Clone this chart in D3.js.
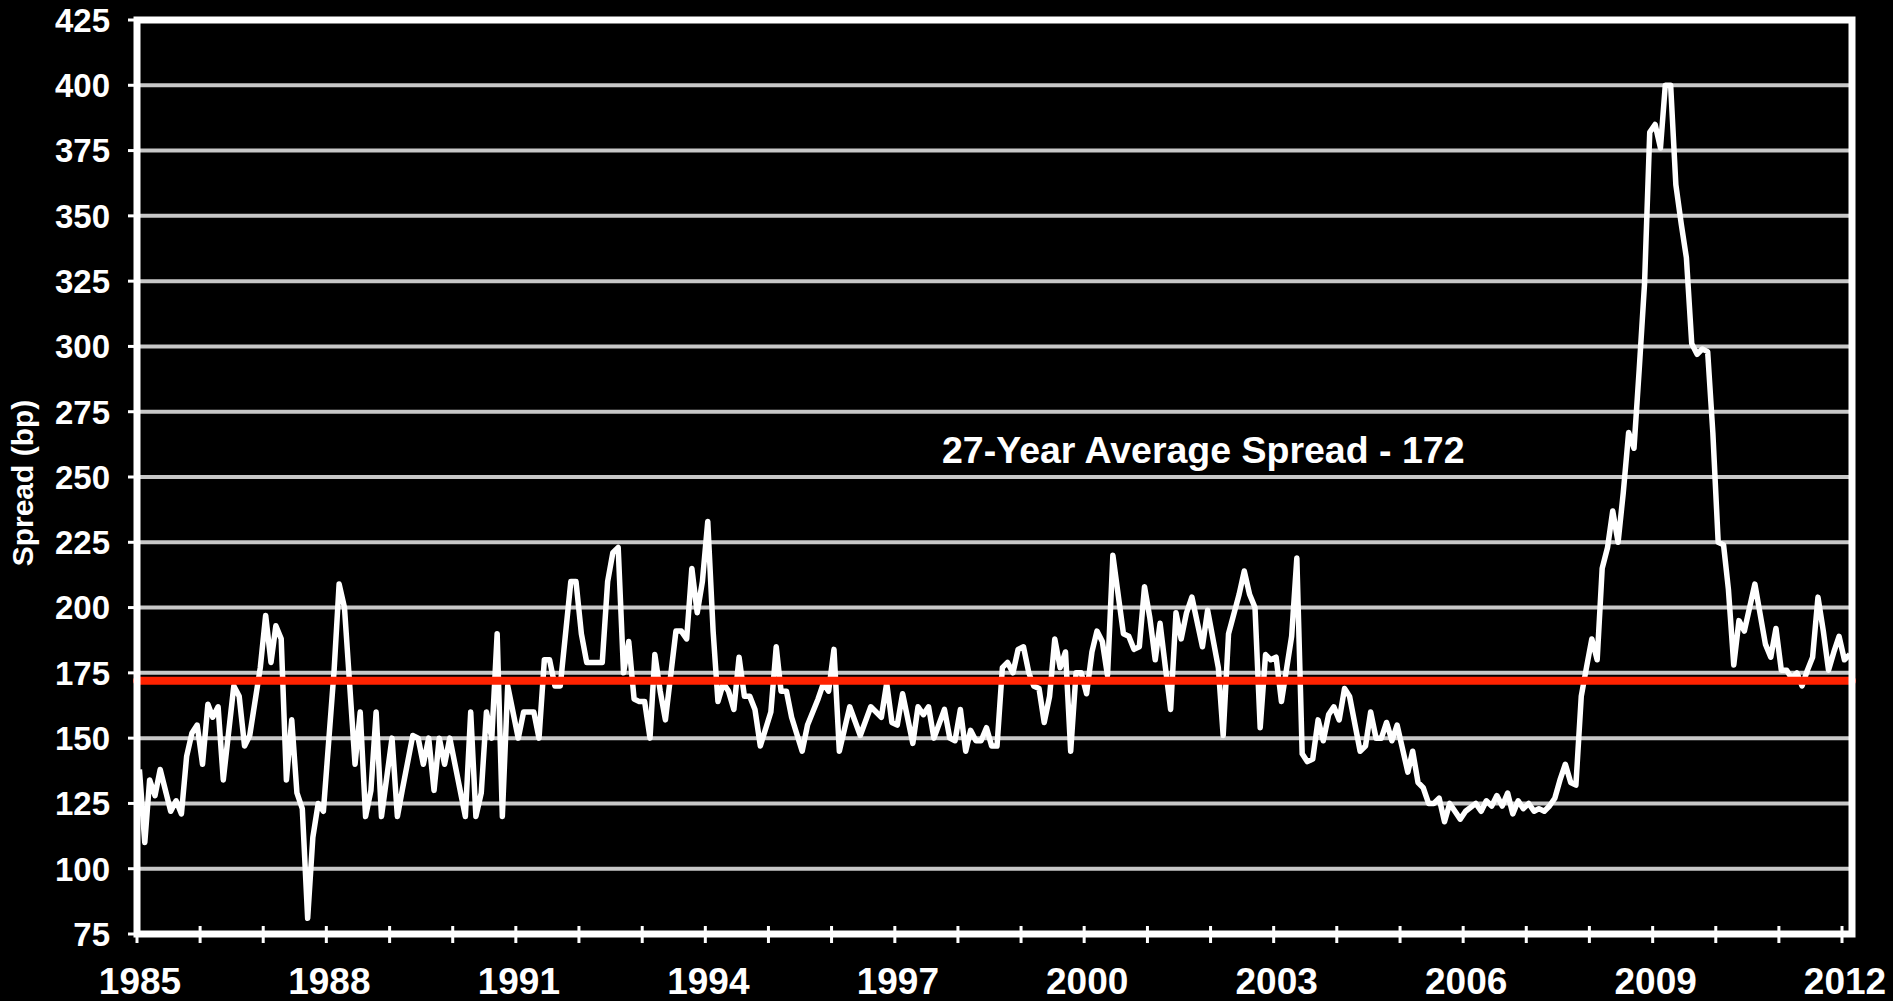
<!DOCTYPE html>
<html>
<head>
<meta charset="utf-8">
<script src="https://d3js.org/d3.v7.min.js"></script>
<style>
  body { margin: 0; background: #000; }
  text { font-family: Arial, "Liberation Sans", sans-serif; font-weight: bold; fill: #fff; }
</style>
</head>
<body>
<div id="spread-chart"></div>
<script>
// monthly spread, bp
const spreadData = [
    ["1985-01", 138], ["1985-02", 110], ["1985-03", 134], ["1985-04", 128], ["1985-05", 138], ["1985-07", 122],
    ["1985-08", 126], ["1985-09", 121], ["1985-10", 143], ["1985-11", 152], ["1985-12", 155],
    ["1986-01", 140], ["1986-02", 163], ["1986-03", 158], ["1986-04", 162], ["1986-05", 134], ["1986-07", 170],
    ["1986-08", 166], ["1986-09", 147], ["1986-10", 151], ["1986-12", 177],
    ["1987-01", 197], ["1987-02", 179], ["1987-03", 193], ["1987-04", 188], ["1987-05", 134], ["1987-06", 157],
    ["1987-07", 129], ["1987-08", 123], ["1987-09", 81], ["1987-10", 112], ["1987-11", 125], ["1987-12", 122],
    ["1988-02", 176], ["1988-03", 209], ["1988-04", 200], ["1988-06", 140], ["1988-07", 160], ["1988-08", 120],
    ["1988-09", 130], ["1988-10", 160], ["1988-11", 120],
    ["1989-01", 150], ["1989-02", 120], ["1989-03", 130], ["1989-05", 151], ["1989-06", 150], ["1989-07", 140],
    ["1989-08", 150], ["1989-09", 130], ["1989-10", 150], ["1989-11", 140], ["1989-12", 150],
    ["1990-03", 120], ["1990-04", 160], ["1990-05", 120], ["1990-06", 129], ["1990-07", 160], ["1990-08", 150],
    ["1990-09", 190], ["1990-10", 120], ["1990-11", 170],
    ["1991-01", 150], ["1991-02", 160], ["1991-04", 160], ["1991-05", 150], ["1991-06", 180], ["1991-07", 180],
    ["1991-08", 170], ["1991-09", 170], ["1991-11", 210], ["1991-12", 210],
    ["1992-01", 190], ["1992-02", 179], ["1992-05", 179], ["1992-06", 210], ["1992-07", 221], ["1992-08", 223],
    ["1992-09", 175], ["1992-10", 187], ["1992-11", 165], ["1992-12", 164],
    ["1993-01", 164], ["1993-02", 150], ["1993-03", 182], ["1993-04", 168], ["1993-05", 157], ["1993-07", 191],
    ["1993-08", 191], ["1993-09", 188], ["1993-10", 215], ["1993-11", 198], ["1993-12", 210],
    ["1994-01", 233], ["1994-02", 191], ["1994-03", 164], ["1994-04", 171], ["1994-05", 168], ["1994-06", 161],
    ["1994-07", 181], ["1994-08", 166], ["1994-09", 166], ["1994-10", 161], ["1994-11", 147],
    ["1995-01", 160], ["1995-02", 185], ["1995-03", 168], ["1995-04", 168], ["1995-05", 158], ["1995-07", 145],
    ["1995-08", 155], ["1995-10", 165], ["1995-11", 171], ["1995-12", 168],
    ["1996-01", 184], ["1996-02", 145], ["1996-04", 162], ["1996-06", 151], ["1996-08", 162], ["1996-10", 158],
    ["1996-11", 171], ["1996-12", 156],
    ["1997-01", 155], ["1997-02", 167], ["1997-04", 148], ["1997-05", 162], ["1997-06", 159], ["1997-07", 162],
    ["1997-08", 150], ["1997-10", 161], ["1997-11", 150], ["1997-12", 149],
    ["1998-01", 161], ["1998-02", 145], ["1998-03", 153], ["1998-04", 149], ["1998-05", 149], ["1998-06", 154],
    ["1998-07", 147], ["1998-08", 147], ["1998-09", 177], ["1998-10", 179], ["1998-11", 175], ["1998-12", 184],
    ["1999-01", 185], ["1999-02", 175], ["1999-03", 170], ["1999-04", 169], ["1999-05", 156], ["1999-06", 166],
    ["1999-07", 188], ["1999-08", 177], ["1999-09", 183], ["1999-10", 145], ["1999-11", 175], ["1999-12", 175],
    ["2000-01", 167], ["2000-02", 183], ["2000-03", 191], ["2000-04", 187], ["2000-05", 174], ["2000-06", 220],
    ["2000-08", 190], ["2000-09", 189], ["2000-10", 184], ["2000-11", 185], ["2000-12", 208],
    ["2001-01", 196], ["2001-02", 180], ["2001-03", 194], ["2001-04", 177], ["2001-05", 161], ["2001-06", 198],
    ["2001-07", 188], ["2001-08", 198], ["2001-09", 204], ["2001-11", 185], ["2001-12", 199],
    ["2002-02", 177], ["2002-03", 151], ["2002-04", 190], ["2002-06", 205], ["2002-07", 214], ["2002-08", 205],
    ["2002-09", 200], ["2002-10", 154], ["2002-11", 182], ["2002-12", 180],
    ["2003-01", 181], ["2003-02", 164], ["2003-04", 189], ["2003-05", 219], ["2003-06", 144], ["2003-07", 141],
    ["2003-08", 142], ["2003-09", 157], ["2003-10", 149], ["2003-11", 159], ["2003-12", 162],
    ["2004-01", 157], ["2004-02", 169], ["2004-03", 166], ["2004-05", 145], ["2004-06", 147], ["2004-07", 160],
    ["2004-08", 150], ["2004-09", 150], ["2004-10", 156], ["2004-11", 149], ["2004-12", 155],
    ["2005-02", 137], ["2005-03", 145], ["2005-04", 133], ["2005-05", 131], ["2005-06", 125], ["2005-07", 125],
    ["2005-08", 127], ["2005-09", 118], ["2005-10", 125], ["2005-12", 119],
    ["2006-01", 122], ["2006-03", 125], ["2006-04", 122], ["2006-05", 126], ["2006-06", 124], ["2006-07", 128],
    ["2006-08", 124], ["2006-09", 129], ["2006-10", 121], ["2006-11", 126], ["2006-12", 123],
    ["2007-01", 125], ["2007-02", 122], ["2007-03", 123], ["2007-04", 122], ["2007-05", 124], ["2007-06", 127],
    ["2007-07", 134], ["2007-08", 140], ["2007-09", 133], ["2007-10", 132], ["2007-11", 166], ["2007-12", 177],
    ["2008-01", 188], ["2008-02", 180], ["2008-03", 215], ["2008-04", 223], ["2008-05", 237], ["2008-06", 225],
    ["2008-07", 244], ["2008-08", 267], ["2008-09", 261], ["2008-10", 291], ["2008-11", 324], ["2008-12", 382],
    ["2009-01", 385], ["2009-02", 376], ["2009-03", 400], ["2009-04", 400], ["2009-05", 362], ["2009-06", 347],
    ["2009-07", 334], ["2009-08", 301], ["2009-09", 297], ["2009-10", 299], ["2009-11", 298], ["2009-12", 267],
    ["2010-01", 225], ["2010-02", 224], ["2010-03", 207], ["2010-04", 178], ["2010-05", 195], ["2010-06", 191],
    ["2010-08", 209], ["2010-10", 186], ["2010-11", 181], ["2010-12", 192],
    ["2011-01", 176], ["2011-02", 176], ["2011-03", 173], ["2011-04", 175], ["2011-05", 170], ["2011-06", 176],
    ["2011-07", 181], ["2011-08", 204], ["2011-09", 191], ["2011-10", 176], ["2011-11", 183], ["2011-12", 189],
    ["2012-01", 180], ["2012-02", 182]
];

const yTicks = [75, 100, 125, 150, 175, 200, 225, 250, 275, 300, 325, 350, 375, 400, 425];
const xLabelYears = [1985, 1988, 1991, 1994, 1997, 2000, 2003, 2006, 2009, 2012];
const averageSpread = 172;
const averageLabel = "27-Year Average Spread - 172";
const yTitle = "Spread (bp)";

// set the dimensions and margins of the graph
const WIDTH = 1893,
    HEIGHT = 1001,
    LEFT = 137,
    RIGHT = 1852,
    TOP = 20,
    BOTTOM = 934

const parseMonth = d3.timeParse("%Y-%m");

const x = d3.scaleTime()
    .domain([new Date(1985, 0, 1), new Date(2012, 0, 1)])
    .range([LEFT, 1842]);

const y = d3.scaleLinear()
    .domain([75, 425])
    .range([BOTTOM, TOP]);

let svg = d3.select("#spread-chart")
    .append("svg")
    .attr("width", WIDTH)
    .attr("height", HEIGHT)
    .style("display", "block")
    .style("background", "#000");

// horizontal gridlines
svg.append("g")
    .selectAll("line")
    .data(yTicks.slice(1, -1))
    .enter()
    .append("line")
    .attr("x1", LEFT)
    .attr("x2", RIGHT)
    .attr("y1", d => y(d))
    .attr("y2", d => y(d))
    .attr("stroke", "#c8c8c8")
    .attr("stroke-width", 4);

// spread line, points sit mid-month
const line = d3.line()
    .x(d => x(d3.timeDay.offset(parseMonth(d[0]), 14)))
    .y(d => y(d[1]))
    .curve(d3.curveLinear);

svg.append("path")
    .datum(spreadData)
    .attr("d", line)
    .attr("fill", "none")
    .attr("stroke", "#fff")
    .attr("stroke-width", 5.5)
    .attr("stroke-linejoin", "round");

// average line
svg.append("line")
    .attr("x1", LEFT)
    .attr("x2", RIGHT)
    .attr("y1", y(averageSpread))
    .attr("y2", y(averageSpread))
    .attr("stroke", "#ff2200")
    .attr("stroke-width", 8)
    .attr("stroke-linecap", "round");

// frame
svg.append("rect")
    .attr("x", LEFT)
    .attr("y", TOP)
    .attr("width", RIGHT - LEFT)
    .attr("height", BOTTOM - TOP)
    .attr("fill", "none")
    .attr("stroke", "#fff")
    .attr("stroke-width", 7);

// y ticks + labels
let yAxis = svg.append("g");
yAxis.selectAll("line")
    .data(yTicks)
    .enter()
    .append("line")
    .attr("x1", LEFT - 9)
    .attr("x2", LEFT)
    .attr("y1", d => y(d))
    .attr("y2", d => y(d))
    .attr("stroke", "#fff")
    .attr("stroke-width", 3);

yAxis.selectAll("text")
    .data(yTicks)
    .enter()
    .append("text")
    .attr("x", 110)
    .attr("y", d => y(d))
    .attr("dy", "0.36em")
    .style("text-anchor", "end")
    .style("font-size", "33px")
    .text(d => d);

// x ticks every year, labels every third
let xAxis = svg.append("g");
xAxis.selectAll("line")
    .data(d3.range(1985, 2013))
    .enter()
    .append("line")
    .attr("x1", d => x(new Date(d, 0, 1)))
    .attr("x2", d => x(new Date(d, 0, 1)))
    .attr("y1", BOTTOM - 8)
    .attr("y2", BOTTOM + 9)
    .attr("stroke", "#fff")
    .attr("stroke-width", 3);

xAxis.selectAll("text")
    .data(xLabelYears)
    .enter()
    .append("text")
    .attr("x", d => x(new Date(d, 0, 1)) + 3)
    .attr("y", 994)
    .style("text-anchor", "middle")
    .style("font-size", "37px")
    .text(d => d);

// axis title
svg.append("text")
    .attr("transform", "translate(33," + (y(250) + 6) + ") rotate(-90)")
    .style("text-anchor", "middle")
    .style("font-size", "30px")
    .text(yTitle);

// annotation
svg.append("text")
    .attr("x", 942)
    .attr("y", 463)
    .style("font-size", "37.5px")
    .text(averageLabel);
</script>
</body>
</html>
